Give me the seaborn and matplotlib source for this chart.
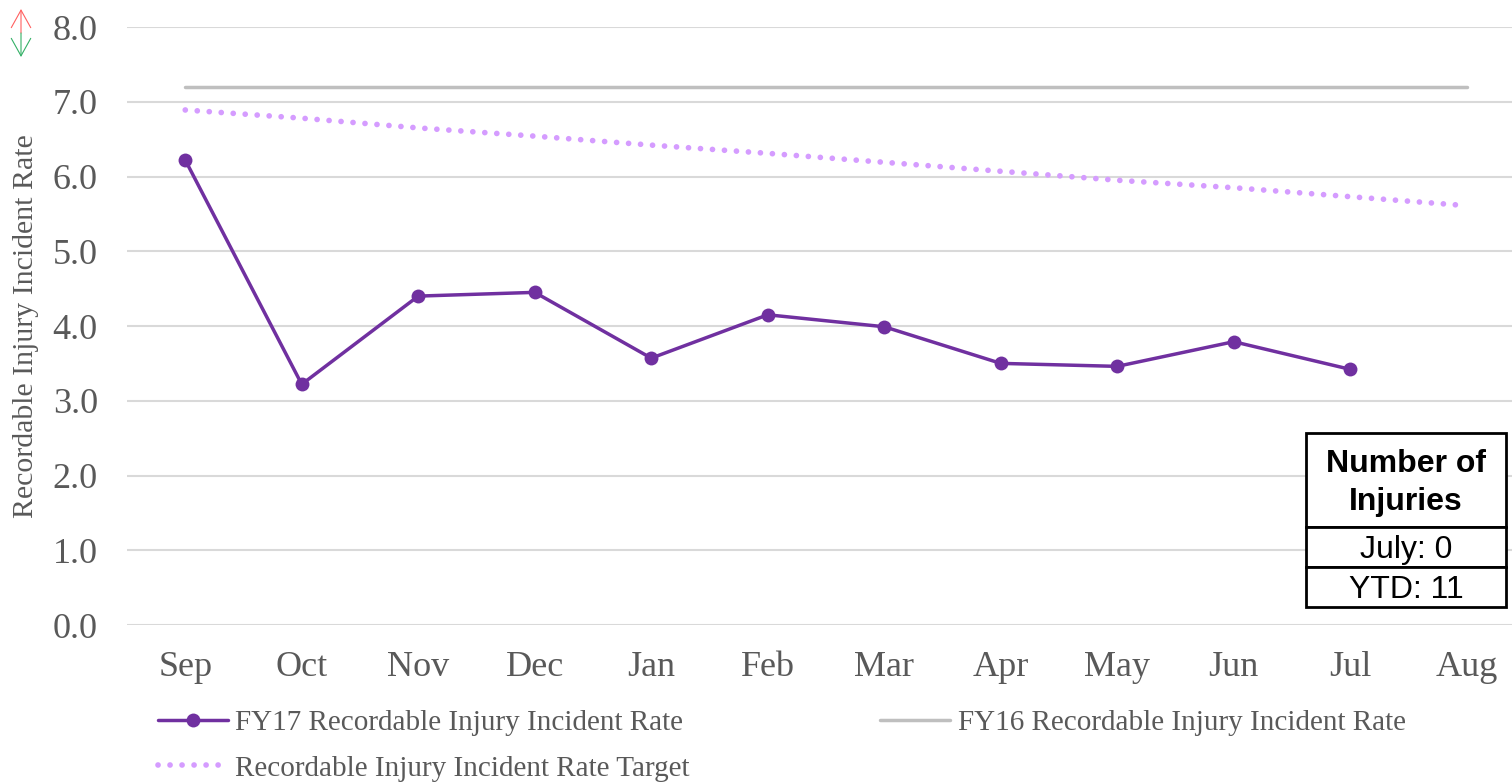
import numpy as np
import matplotlib
matplotlib.use("Agg")
import matplotlib.pyplot as plt
from matplotlib.patches import Rectangle, FancyArrowPatch
import pandas as pd
import seaborn as sns

months = ['Sep', 'Oct', 'Nov', 'Dec', 'Jan', 'Feb', 'Mar', 'Apr', 'May', 'Jun', 'Jul', 'Aug']
fy17 = [6.22, 3.22, 4.40, 4.45, 3.57, 4.15, 3.99, 3.50, 3.46, 3.79, 3.42, np.nan]
fy16 = [7.20] * 12
target = [6.89, 6.78, 6.65, 6.54, 6.42, 6.31, 6.19, 6.07, 5.95, 5.85, 5.73, 5.61]

lbl17 = 'FY17 Recordable Injury Incident Rate'
lbl16 = 'FY16 Recordable Injury Incident Rate'
lbltg = 'Recordable Injury Incident Rate Target'

table_rows = ['Number of\nInjuries', 'July: 0', 'YTD: 11']

df = pd.DataFrame({'Month': months, 'FY17': fy17, 'FY16': fy16, 'Target': target})

sns.set_style('white')
plt.rcParams['font.family'] = ['Liberation Serif', 'DejaVu Serif']
txt_col = '#595959'

W, H = 1512, 782
fig = plt.figure(figsize=(W / 100, H / 100), dpi=100)
# plot area runs slightly past the right edge of the picture
ax = fig.add_axes([127 / W, 1 - 625 / H, (1525 - 127) / W, (625 - 27) / H])

sns.lineplot(data=df, x='Month', y='FY16', ax=ax, color='#bfbfbf', lw=2.5, label=lbl16, sort=False)
sns.lineplot(data=df, x='Month', y='Target', ax=ax, color='#d59cff', lw=4.1, ls=(0, (0.01, 2.1)),
             dash_capstyle='round', label=lbltg, sort=False)
sns.lineplot(data=df.dropna(), x='Month', y='FY17', ax=ax, color='#7030a0', lw=2.5, marker='o',
             markersize=10, markeredgewidth=0, label=lbl17, sort=False)

ax.set_xlim(-0.5, 11.5)
ax.set_ylim(0, 8)
ax.set_yticks(np.arange(0, 8.5, 1))
ax.set_yticklabels([f'{v:.1f}' for v in np.arange(0, 8.5, 1)])
ax.grid(axis='y', color='#d9d9d9', lw=1.5)
ax.set_axisbelow(True)
for s in ax.spines.values():
    s.set_visible(False)
ax.tick_params(axis='both', length=0, labelsize=26, labelcolor=txt_col)
ax.tick_params(axis='y', pad=21)
ax.tick_params(axis='x', pad=19)
ax.set_xlabel('')
ax.set_ylabel('Recordable Injury Incident Rate', fontsize=21.5, color=txt_col)
ax.yaxis.set_label_coords((39 - 127) / (1525 - 127), 0.5)

ax.get_legend().remove()
h, l = ax.get_legend_handles_labels()
hd = dict(zip(l, h))
fig.legend([hd[lbl17], hd[lbltg], hd[lbl16]], [lbl17, lbltg, lbl16], ncol=2,
           loc='lower left', bbox_to_anchor=(140 / W, -0.022), frameon=False,
           fontsize=21, labelcolor=txt_col, handlelength=2.4, handletextpad=0.25,
           columnspacing=6.55, labelspacing=0.66, borderaxespad=0.2)

# double arrow top-left: red up, green down
for y_tip, col in [(9, '#ff6060'), (57, '#33b066')]:
    fig.add_artist(FancyArrowPatch((21 / W, 1 - 33 / H), (21 / W, 1 - y_tip / H), transform=fig.transFigure,
                                   arrowstyle='->,head_length=0.9,head_width=0.5', mutation_scale=14,
                                   shrinkA=0, shrinkB=0, color=col, lw=0.8))

# injuries table
x0, x1 = 1306, 1506
edges = [433, 527, 567, 607]
for i, txt in enumerate(table_rows):
    ya, yb = edges[i], edges[i + 1]
    fig.add_artist(Rectangle((x0 / W, 1 - yb / H), (x1 - x0) / W, (yb - ya) / H,
                             transform=fig.transFigure, facecolor='white', edgecolor='black', lw=2))
    fig.text((x0 + x1) / 2 / W, 1 - ((ya + yb) / 2 + 3) / H, txt, ha='center', va='center',
             family='Liberation Sans', fontsize=23, fontweight='bold' if i == 0 else 'normal',
             color='black', linespacing=1.38)

fig.savefig('out.png', dpi=100)
